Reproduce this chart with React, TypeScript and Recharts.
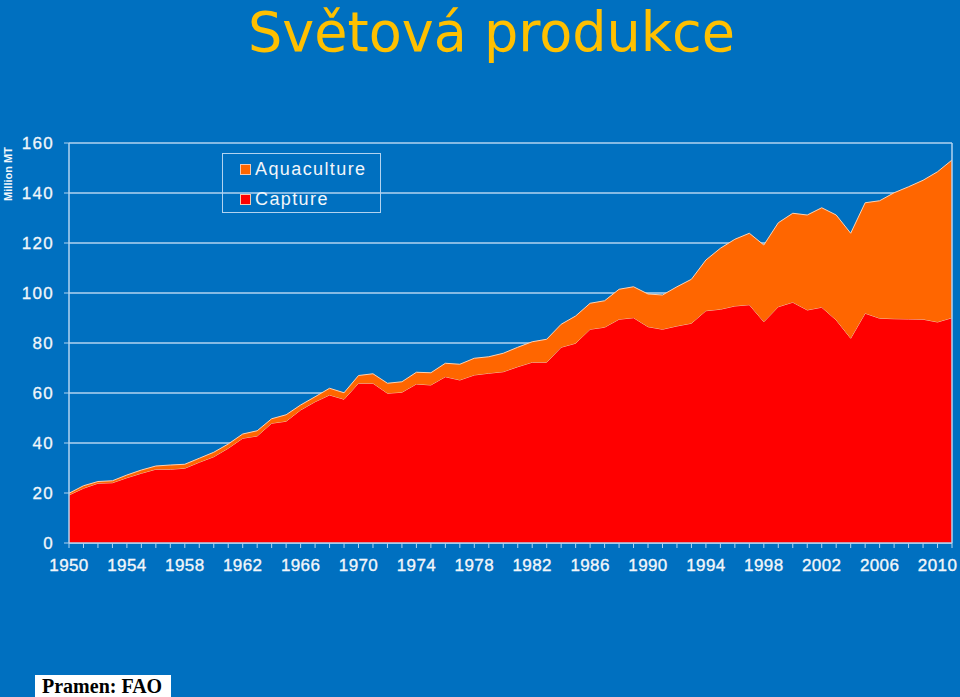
import React from "react";
import {
  AreaChart,
  Area,
  XAxis,
  YAxis,
  CartesianGrid,
  ReferenceLine,
} from "recharts";

const years = [
  1950, 1951, 1952, 1953, 1954, 1955, 1956, 1957, 1958, 1959,
  1960, 1961, 1962, 1963, 1964, 1965, 1966, 1967, 1968, 1969,
  1970, 1971, 1972, 1973, 1974, 1975, 1976, 1977, 1978, 1979,
  1980, 1981, 1982, 1983, 1984, 1985, 1986, 1987, 1988, 1989,
  1990, 1991, 1992, 1993, 1994, 1995, 1996, 1997, 1998, 1999,
  2000, 2001, 2002, 2003, 2004, 2005, 2006, 2007, 2008, 2009,
  2010, 2011,
];

const capture = [
  19.2, 21.9, 23.9, 24.1, 26.1, 27.9, 29.5, 29.5, 29.9, 32.3,
  34.5, 37.9, 41.9, 42.8, 47.9, 48.7, 53.2, 56.5, 59.2, 57.5,
  63.9, 63.9, 59.9, 60.3, 63.6, 63.2, 66.5, 65.2, 67.2, 67.9,
  68.5, 70.5, 72.3, 72.3, 78.3, 79.9, 85.5, 86.3, 89.5, 90.1,
  86.5, 85.5, 86.8, 87.9, 92.9, 93.5, 94.8, 95.3, 88.5, 94.5,
  96.3, 93.2, 94.3, 89.2, 81.9, 91.9, 89.9, 89.7, 89.6, 89.5,
  88.4, 90.1,
];

const aquaculture = [
  0.7, 1.0, 0.7, 0.8, 1.1, 1.3, 1.3, 1.7, 1.6, 1.6,
  1.8, 1.7, 1.7, 2.1, 1.8, 2.6, 2.0, 2.0, 2.7, 2.6,
  3.1, 3.8, 4.0, 4.2, 4.7, 4.9, 5.4, 6.3, 6.7, 6.6,
  7.4, 7.8, 8.2, 9.2, 9.2, 10.9, 10.4, 10.6, 12.0, 12.4,
  13.1, 13.7, 15.7, 17.6, 20.3, 24.4, 26.7, 28.6, 30.7, 33.6,
  35.6, 38.0, 39.8, 42.0, 42.0, 44.2, 47.0, 50.4, 52.9, 55.6,
  60.1, 63.1,
];

const yTicks = [0, 20, 40, 60, 80, 100, 120, 140, 160];
const xLabelYears = [
  1950, 1954, 1958, 1962, 1966, 1970, 1974, 1978, 1982, 1986, 1990, 1994,
  1998, 2002, 2006, 2010,
];

const seriesNames = { aquaculture: "Aquaculture", capture: "Capture" };
const legendOrder = [
  { key: "aquaculture", color: "#FF6600" },
  { key: "capture", color: "#FF0000" },
];

const data = years.map((y, i) => ({
  year: y,
  capture: capture[i],
  aquaculture: aquaculture[i],
}));

const LIGHT = "#B2D3F0";
const TEXT = "#F2F6FA";
const FONT = "'Liberation Sans', Arial, sans-serif";

const XTick = (props: any) => {
  const { x, y, payload } = props;
  if (!xLabelYears.includes(payload.value)) return <g />;
  return (
    <text
      x={x}
      y={y}
      dy={21}
      textAnchor="middle"
      fill={TEXT}
      fontSize={17}
      letterSpacing={0.4}
      stroke={TEXT}
      strokeWidth={0.35}
      fontFamily={FONT}
    >
      {payload.value}
    </text>
  );
};

const YTick = (props: any) => {
  const { x, y, payload } = props;
  return (
    <text
      x={x}
      y={y}
      textAnchor="end"
      dominantBaseline="central"
      fill={TEXT}
      fontSize={17}
      letterSpacing={1.3}
      stroke={TEXT}
      strokeWidth={0.3}
      fontFamily={FONT}
    >
      {payload.value}
    </text>
  );
};

export default function App() {
  return (
    <div
      style={{
        position: "fixed",
        left: 0,
        top: 0,
        width: 960,
        height: 697,
        background: "#0070C0",
        overflow: "hidden",
      }}
    >
      <AreaChart
        width={960}
        height={697}
        data={data}
        margin={{ top: 143, right: 8, bottom: 124, left: 0 }}
      >
        <CartesianGrid vertical={false} stroke={LIGHT} strokeWidth={1.5} />
        <XAxis
          dataKey="year"
          type="number"
          domain={[1950, 2011]}
          ticks={years}
          interval={0}
          height={30}
          tickSize={5}
          tick={<XTick />}
          tickLine={{ stroke: LIGHT }}
          axisLine={{ stroke: LIGHT, strokeWidth: 1.5 }}
        />
        <YAxis
          domain={[0, 160]}
          ticks={yTicks}
          interval={0}
          width={69}
          tickSize={5}
          tickMargin={10}
          tick={<YTick />}
          tickLine={{ stroke: LIGHT }}
          axisLine={{ stroke: LIGHT, strokeWidth: 1.5 }}
        />
        <Area
          type="linear"
          dataKey="capture"
          stackId="1"
          name={seriesNames.capture}
          fill="#FF0000"
          fillOpacity={1}
          stroke="#FFC4A8"
          strokeWidth={1}
          isAnimationActive={false}
        />
        <Area
          type="linear"
          dataKey="aquaculture"
          stackId="1"
          name={seriesNames.aquaculture}
          fill="#FF6600"
          fillOpacity={1}
          stroke="#FFD2B0"
          strokeWidth={1}
          isAnimationActive={false}
        />
        <ReferenceLine x={2011} stroke={LIGHT} strokeWidth={1.5} />
      </AreaChart>

      <svg
        width={960}
        height={697}
        style={{ position: "absolute", left: 0, top: 0, pointerEvents: "none" }}
      >
        <text
          x={248}
          y={51}
          fill="#FFC000"
          fontSize={56}
          fontFamily="'DejaVu Sans', sans-serif"
          textLength={487}
          lengthAdjust="spacingAndGlyphs"
        >
          Světová produkce
        </text>
        <text
          x={12}
          y={174}
          transform="rotate(-90 12 174)"
          textAnchor="middle"
          fill={TEXT}
          fontSize={11}
          fontWeight="bold"
          fontFamily={FONT}
        >
          Million MT
        </text>
        <rect x={35} y={675} width={136} height={24} fill="#FFFFFF" />
        <text
          x={42}
          y={693}
          fill="#000000"
          fontSize={20}
          fontWeight="bold"
          fontFamily="'Liberation Serif', 'Times New Roman', serif"
        >
          Pramen: FAO
        </text>
      </svg>

      <div
        style={{
          position: "absolute",
          left: 222,
          top: 153,
          width: 159,
          height: 60,
          boxSizing: "border-box",
          border: `1px solid ${LIGHT}`,
          fontFamily: FONT,
        }}
      >
        {legendOrder.map((s, i) => (
          <div
            key={s.key}
            style={{
              position: "absolute",
              left: 17,
              top: 4 + i * 30,
              height: 22,
              display: "flex",
              alignItems: "center",
            }}
          >
            <div
              style={{
                width: 9,
                height: 9,
                background: s.color,
                border: "1px solid #F4C8B0",
                marginRight: 4,
              }}
            />
            <span
              style={{
                color: TEXT,
                fontSize: 18,
                letterSpacing: 1.4,
                lineHeight: "22px",
              }}
            >
              {seriesNames[s.key as keyof typeof seriesNames]}
            </span>
          </div>
        ))}
      </div>
    </div>
  );
}
